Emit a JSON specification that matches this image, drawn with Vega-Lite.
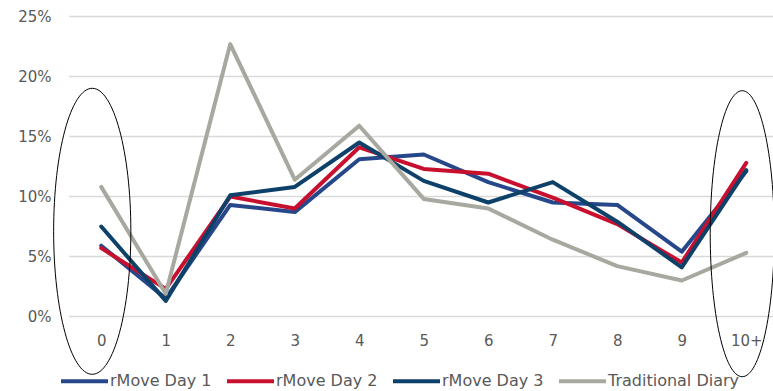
{
  "$schema": "https://vega.github.io/schema/vega-lite/v6.json",
  "width": 704,
  "height": 300,
  "autosize": {"type": "none"},
  "padding": {"left": 69, "top": 16.5, "right": 0, "bottom": 74.5},
  "background": "white",
  "config": {
    "view": {"stroke": null},
    "font": "DejaVu Sans"
  },
  "encoding": {
    "y": {
      "field": "share",
      "type": "quantitative",
      "scale": {"domain": [0, 0.25], "nice": false, "zero": true},
      "axis": {
        "title": null,
        "values": [0, 0.05, 0.1, 0.15, 0.2, 0.25],
        "format": ".0%",
        "domain": false,
        "ticks": false,
        "grid": false,
        "labelFont": "DejaVu Sans",
        "labelFontSize": 15,
        "labelColor": "#595959",
        "labelPadding": 18
      }
    }
  },
  "layer": [
    {
      "description": "horizontal gridlines across the full plot width",
      "data": {"values": [{"share": 0}, {"share": 0.05}, {"share": 0.1}, {"share": 0.15}, {"share": 0.2}, {"share": 0.25}]},
      "mark": {"type": "rule", "color": "#d9d9d9", "strokeWidth": 1.5}
    },
    {
      "data": {
        "values": [
          {"series": "rMove Day 1", "trips": "0", "share": 0.059},
          {"series": "rMove Day 1", "trips": "1", "share": 0.015},
          {"series": "rMove Day 1", "trips": "2", "share": 0.093},
          {"series": "rMove Day 1", "trips": "3", "share": 0.087},
          {"series": "rMove Day 1", "trips": "4", "share": 0.131},
          {"series": "rMove Day 1", "trips": "5", "share": 0.135},
          {"series": "rMove Day 1", "trips": "6", "share": 0.112},
          {"series": "rMove Day 1", "trips": "7", "share": 0.095},
          {"series": "rMove Day 1", "trips": "8", "share": 0.093},
          {"series": "rMove Day 1", "trips": "9", "share": 0.054},
          {"series": "rMove Day 1", "trips": "10+", "share": 0.121},
          {"series": "rMove Day 2", "trips": "0", "share": 0.057},
          {"series": "rMove Day 2", "trips": "1", "share": 0.023},
          {"series": "rMove Day 2", "trips": "2", "share": 0.100},
          {"series": "rMove Day 2", "trips": "3", "share": 0.090},
          {"series": "rMove Day 2", "trips": "4", "share": 0.141},
          {"series": "rMove Day 2", "trips": "5", "share": 0.123},
          {"series": "rMove Day 2", "trips": "6", "share": 0.119},
          {"series": "rMove Day 2", "trips": "7", "share": 0.099},
          {"series": "rMove Day 2", "trips": "8", "share": 0.077},
          {"series": "rMove Day 2", "trips": "9", "share": 0.045},
          {"series": "rMove Day 2", "trips": "10+", "share": 0.128},
          {"series": "rMove Day 3", "trips": "0", "share": 0.075},
          {"series": "rMove Day 3", "trips": "1", "share": 0.013},
          {"series": "rMove Day 3", "trips": "2", "share": 0.101},
          {"series": "rMove Day 3", "trips": "3", "share": 0.108},
          {"series": "rMove Day 3", "trips": "4", "share": 0.145},
          {"series": "rMove Day 3", "trips": "5", "share": 0.113},
          {"series": "rMove Day 3", "trips": "6", "share": 0.095},
          {"series": "rMove Day 3", "trips": "7", "share": 0.112},
          {"series": "rMove Day 3", "trips": "8", "share": 0.079},
          {"series": "rMove Day 3", "trips": "9", "share": 0.041},
          {"series": "rMove Day 3", "trips": "10+", "share": 0.122},
          {"series": "Traditional Diary", "trips": "0", "share": 0.108},
          {"series": "Traditional Diary", "trips": "1", "share": 0.019},
          {"series": "Traditional Diary", "trips": "2", "share": 0.227},
          {"series": "Traditional Diary", "trips": "3", "share": 0.114},
          {"series": "Traditional Diary", "trips": "4", "share": 0.159},
          {"series": "Traditional Diary", "trips": "5", "share": 0.098},
          {"series": "Traditional Diary", "trips": "6", "share": 0.090},
          {"series": "Traditional Diary", "trips": "7", "share": 0.064},
          {"series": "Traditional Diary", "trips": "8", "share": 0.042},
          {"series": "Traditional Diary", "trips": "9", "share": 0.030},
          {"series": "Traditional Diary", "trips": "10+", "share": 0.053}
        ]
      },
      "mark": {"type": "line", "strokeWidth": 4, "strokeJoin": "round", "strokeCap": "round"},
      "encoding": {
        "x": {
          "field": "trips",
          "type": "ordinal",
          "sort": ["0", "1", "2", "3", "4", "5", "6", "7", "8", "9", "10+"],
          "scale": {"type": "point", "domain": ["0", "1", "2", "3", "4", "5", "6", "7", "8", "9", "10+"], "range": [32.25, 677.25], "padding": 0},
          "axis": {
            "title": null,
            "domain": false,
            "ticks": false,
            "grid": false,
            "labelAngle": 0,
            "labelFont": "DejaVu Sans",
            "labelFontSize": 15,
            "labelColor": "#595959",
            "labelPadding": 17
          }
        },
        "color": {
          "field": "series",
          "type": "nominal",
          "scale": {
            "domain": ["rMove Day 1", "rMove Day 2", "rMove Day 3", "Traditional Diary"],
            "range": ["#27478b", "#c8102e", "#0d4169", "#a7a89f"]
          },
          "legend": {
            "title": null,
            "orient": "none",
            "direction": "horizontal",
            "legendX": -10,
            "legendY": 339,
            "symbolType": "stroke",
            "symbolSize": 2209,
            "symbolStrokeWidth": 4,
            "labelFont": "DejaVu Sans",
            "labelFontSize": 16,
            "labelColor": "#595959",
            "labelOffset": 0,
            "columnPadding": 7
          }
        }
      }
    },
    {
      "data": {"values": [{"trips": "0", "share": 0.071}]},
      "mark": {
        "type": "point",
        "shape": "M-0.063,-1 A0.27,1 0 1,1 -0.063,1 A0.27,1 0 1,1 -0.063,-1 Z",
        "size": 81796,
        "filled": false,
        "stroke": "black",
        "strokeWidth": 1,
        "opacity": 1
      },
      "encoding": {"x": {"field": "trips", "type": "ordinal"}}
    },
    {
      "data": {"values": [{"trips": "10+", "share": 0.069}]},
      "mark": {
        "type": "point",
        "shape": "M-0.028,-1 A0.224,1 0 1,1 -0.028,1 A0.224,1 0 1,1 -0.028,-1 Z",
        "size": 81796,
        "filled": false,
        "stroke": "black",
        "strokeWidth": 1,
        "opacity": 1
      },
      "encoding": {"x": {"field": "trips", "type": "ordinal"}}
    }
  ]
}
